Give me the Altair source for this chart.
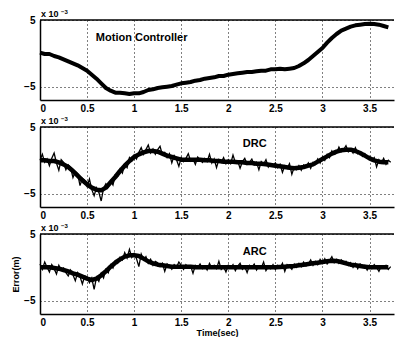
import altair as alt
import pandas as pd

# ---- data (error values in units of 1e-3 m) ----
t_slow = [round(i * 0.05, 2) for i in range(75)]
motion = [0.1, -0.1, -0.1, -0.4, -0.6, -0.9, -1.2, -1.5, -1.8, -2.2,
          -2.6, -3.2, -3.8, -4.5, -5.2, -5.6, -5.9, -5.9, -6.0, -6.1,
          -6.0, -6.0, -5.8, -5.5, -5.4, -5.2, -5.1, -5.0, -4.9, -4.7,
          -4.5, -4.4, -4.3, -4.1, -4.0, -3.8, -3.7, -3.6, -3.4, -3.4,
          -3.2, -3.1, -3.0, -2.9, -2.8, -2.8, -2.7, -2.6, -2.6, -2.4,
          -2.4, -2.3, -2.4, -2.3, -2.2, -1.9, -1.5, -1.0, -0.4, 0.2,
          0.8, 1.6, 2.3, 2.9, 3.4, 3.7, 4.0, 4.2, 4.3, 4.4,
          4.45, 4.4, 4.3, 4.1, 3.9]
drc_trend = [0.0, 0.0, -0.1, -0.1, -0.3, -0.6, -1.0, -1.6, -2.3, -3.0,
             -3.6, -4.1, -4.4, -4.5, -4.1, -3.3, -2.5, -1.6, -0.8, -0.1,
             0.5, 0.9, 1.2, 1.4, 1.4, 1.3, 1.0, 0.7, 0.5, 0.3,
             0.1, 0.1, 0.1, 0.1, 0.1, 0.0, 0.0, -0.1, -0.1, -0.2,
             -0.2, -0.2, -0.3, -0.3, -0.4, -0.4, -0.5, -0.5, -0.6, -0.7,
             -0.8, -0.9, -1.0, -1.1, -1.2, -1.1, -1.0, -0.8, -0.6, -0.2,
             0.2, 0.6, 1.0, 1.3, 1.5, 1.6, 1.6, 1.4, 1.1, 0.7,
             0.3, 0.0, -0.2, -0.3, -0.3]
arc_trend = [0.0, 0.0, 0.0, -0.1, -0.2, -0.4, -0.6, -0.9, -1.1, -1.4,
             -1.7, -1.9, -1.7, -1.2, -0.6, 0.1, 0.7, 1.2, 1.6, 1.8,
             1.8, 1.7, 1.3, 0.9, 0.6, 0.4, 0.3, 0.2, 0.1, 0.1,
             0.1, 0.1, 0.1, 0.0, 0.0, 0.0, 0.0, 0.0, 0.0, 0.0,
             0.0, 0.0, 0.0, 0.0, 0.0, 0.0, 0.0, 0.0, 0.0, 0.0,
             0.0, 0.05, 0.1, 0.15, 0.2, 0.3, 0.4, 0.5, 0.6, 0.7,
             0.8, 0.9, 1.0, 0.95, 0.8, 0.6, 0.4, 0.3, 0.2, 0.1,
             0.0, 0.0, 0.0, 0.0, 0.0]

t_fast = [round(i * 0.025, 3) for i in range(150)]
drc = [0.0, 0.9, -0.3, 0.2, -0.8, 0.3, 1.1, -0.4, -1.5, 0.1,
       -0.3, -1.4, -0.7, -1.1, -2.6, -1.7, -2.0, -3.8, -2.7, -3.0,
       -3.9, -2.8, -4.4, -5.3, -4.1, -4.8, -6.1, -4.2, -3.5, -4.0,
       -3.1, -3.7, -2.2, -2.4, -1.3, -1.9, -0.6, -1.1, 0.4, -0.1,
       0.8, 0.2, 1.2, 1.9, 0.9, 1.6, 2.3, 1.1, 1.7, 0.9,
       1.6, 2.1, 0.8, 1.2, 0.4, 1.0, -0.4, 0.7, 0.1, -0.9,
       0.4, -0.2, 0.3, 1.0, -0.1, 0.2, -0.6, 0.5, 0.1, -0.3,
       0.3, -0.2, 0.9, -0.4, 0.2, -1.1, 0.1, -0.3, 0.4, -0.5,
       0.1, -0.5, 0.8, -0.3, -0.1, -1.2, -0.2, 0.3, -0.6, -0.3,
       0.2, -0.7, -0.3, -1.4, -0.2, -0.6, 0.1, -1.0, -0.5, -0.8,
       -0.4, -1.1, -0.6, -1.8, -0.8, -1.2, -0.5, -2.1, -1.0, -1.4,
       -0.8, -1.5, -0.7, -1.0, -0.4, -1.2, -0.3, -0.6, 0.2, -0.4,
       0.5, 0.0, 0.9, 0.4, 1.4, 0.9, 1.1, 2.0, 1.3, 1.6,
       2.2, 1.3, 1.7, 1.1, 1.9, 1.0, 1.3, 0.6, 1.0, 0.4,
       0.6, 0.0, 0.4, -1.0, 0.1, -0.4, 0.3, -0.6, 0.0, -0.3]
arc = [0.5, -0.3, 0.8, 0.0, -0.7, 0.4, -0.2, -1.0, 0.3, -0.4,
       -0.1, -0.8, -1.3, -0.4, -1.1, -2.0, -0.8, -1.4, -2.5, -1.3,
       -1.4, -2.3, -1.6, -3.3, -1.5, -2.1, -0.9, -1.6, -0.3, -0.8,
       0.4, -0.1, 1.0, 0.6, 1.5, 1.1, 2.2, 1.4, 2.7, 1.5,
       2.1, 1.3, 0.1, 2.0, 1.1, 1.6, 0.6, 1.2, 0.3, 0.9,
       0.7, 0.1, 0.6, -0.6, 0.5, 0.2, -0.3, 0.4, 0.0, 0.8,
       0.3, -0.3, 0.4, -0.1, 0.2, -0.9, 0.3, 0.0, 0.5, -0.2,
       0.2, -0.4, 0.6, -0.1, 0.3, -0.2, 0.9, -0.3, 0.1, -0.7,
       0.3, -0.1, 0.4, -0.5, 0.2, 0.6, -0.3, 0.1, -0.8, 0.3,
       0.0, 0.5, -0.4, 0.2, -0.1, 0.8, -0.5, 0.1, -0.2, 0.4,
       -0.3, 0.3, -0.1, 0.6, -0.6, 0.4, 0.1, -0.3, 0.5, 0.0,
       0.6, 0.1, 0.8, 0.2, 0.5, 1.1, 0.3, 0.9, 0.4, 1.2,
       0.6, 1.3, 0.5, 1.0, 1.6, 0.7, 1.2, 0.6, 1.1, 0.5,
       0.9, 0.3, 0.7, 0.0, 0.6, -0.2, 0.5, 0.1, 0.3, -0.4,
       0.3, -0.2, 0.4, 0.0, -0.6, 0.2, -0.1, 0.3, -0.3, 0.1]

x_ticks = [0, 0.5, 1, 1.5, 2, 2.5, 3, 3.5]
y_ticks = [-5, 0, 5]
x_domain = [0, 3.76]
y_domain = [-7, 5]
titles = ["Motion Controller", "DRC", "ARC"]
title_x = [1.08, 2.28, 2.28]
title_y = [2.35, 2.4, 2.35]

FONT = "Liberation Sans"
XS = alt.Scale(domain=x_domain, nice=False, zero=False)
YS = alt.Scale(domain=y_domain, nice=False)


def panel(trend, noisy, idx, last):
    xax = alt.Axis(values=x_ticks, grid=True, ticks=False, labelPadding=3,
                   labelExpr="format(datum.value, '~g')",
                   title="Time(sec)" if last else None, titlePadding=1)
    yax = alt.Axis(values=y_ticks, grid=True, ticks=False, labelPadding=5,
                   title="Error(m)" if last else None, titlePadding=3)
    layers = []
    tdf = pd.DataFrame({"t": t_slow, "v": trend})
    layers.append(alt.Chart(tdf).mark_line(color="black",
                                           strokeWidth=4 if noisy is None else 4.5,
                                           strokeJoin="round").encode(
        x=alt.X("t:Q", scale=XS, axis=xax),
        y=alt.Y("v:Q", scale=YS, axis=yax)))
    if noisy is not None:
        ndf = pd.DataFrame({"t": t_fast, "v": noisy})
        layers.append(alt.Chart(ndf).mark_line(color="black", strokeWidth=1.3).encode(
            x=alt.X("t:Q", scale=XS), y=alt.Y("v:Q", scale=YS)))
    layers.append(alt.Chart(pd.DataFrame({"y": [y_domain[1]]})).mark_rule(
        color="black", strokeWidth=1.5).encode(y=alt.Y("y:Q", scale=YS)))
    lab_df = pd.DataFrame({"t": [title_x[idx]], "v": [title_y[idx]], "s": [titles[idx]]})
    layers.append(alt.Chart(lab_df).mark_text(font=FONT, fontWeight="bold", fontSize=11,
                                              color="black").encode(
        x=alt.X("t:Q", scale=XS), y=alt.Y("v:Q", scale=YS), text="s:N"))
    exp_df = pd.DataFrame({"t": [x_domain[0]], "v": [y_domain[1]], "a": ["x 10"], "b": ["\u22123"]})
    layers.append(alt.Chart(exp_df).mark_text(font=FONT, fontWeight="bold", fontSize=9,
                                              align="left", baseline="bottom", dx=1, dy=-1,
                                              color="black").encode(
        x=alt.X("t:Q", scale=XS), y=alt.Y("v:Q", scale=YS), text="a:N"))
    layers.append(alt.Chart(exp_df).mark_text(font=FONT, fontWeight="bold", fontSize=6,
                                              align="left", baseline="bottom", dx=21, dy=-5,
                                              color="black").encode(
        x=alt.X("t:Q", scale=XS), y=alt.Y("v:Q", scale=YS), text="b:N"))
    return alt.layer(*layers).properties(width=354, height=80)


p1 = panel(motion, None, 0, False)
p2 = panel(drc_trend, drc, 1, False)
p3 = panel(arc_trend, arc, 2, True)

chart = alt.vconcat(p1, p2, p3, spacing=3).properties(
    padding={"left": 3, "top": 1, "right": 0, "bottom": 0}
).configure_view(stroke=None).configure_axis(
    labelFont=FONT, labelFontWeight="bold", labelFontSize=10, labelColor="black",
    titleFont=FONT, titleFontWeight="bold", titleFontSize=9, titleColor="black",
    domainColor="black", domainWidth=1.5,
    gridColor="black", gridDash=[1, 3], gridWidth=1, gridOpacity=1,
).configure_concat(spacing=3)

chart.save("out.html", embed_options={"renderer": "svg", "actions": False})
